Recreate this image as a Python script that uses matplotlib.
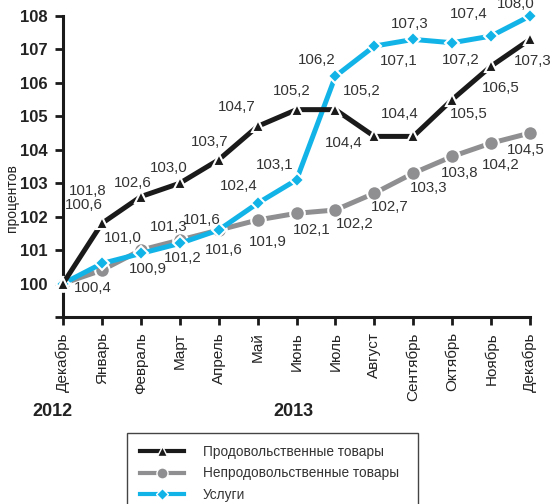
import matplotlib
matplotlib.use("Agg")
import matplotlib.pyplot as plt
from matplotlib.lines import Line2D
from matplotlib.patches import Rectangle

plt.rcParams['font.family'] = ['Liberation Sans', 'DejaVu Sans']

months = ["Декабрь", "Январь", "Февраль", "Март", "Апрель", "Май", "Июнь",
          "Июль", "Август", "Сентябрь", "Октябрь", "Ноябрь", "Декабрь"]
food = [100, 101.8, 102.6, 103.0, 103.7, 104.7, 105.2, 105.2, 104.4, 104.4, 105.5, 106.5, 107.3]
nonfood = [100, 100.4, 101.0, 101.3, 101.6, 101.9, 102.1, 102.2, 102.7, 103.3, 103.8, 104.2, 104.5]
services = [100, 100.6, 100.9, 101.2, 101.6, 102.4, 103.1, 106.2, 107.1, 107.3, 107.2, 107.4, 108.0]
series_names = ["Продовольственные товары", "Непродовольственные товары", "Услуги"]
yticks = [99, 100, 101, 102, 103, 104, 105, 106, 107, 108]
years = ["2012", "2013"]

# label offsets in pixels (dx, dy) relative to each point
food_off = [None, (-14, 32), (-8, 14), (-11, 15), (-9, 18), (-21, 19), (-5, 19),
            (26, 19), (-31, -7), (-14, 22), (17, -14), (10, -22), (3, -22)]
nonfood_off = [None, (-9, -18), (-18, 12), (-11, 13), (-17, 10), (10, -22), (15, -17),
               (19, -14), (15, -14), (15, -15), (7, -17), (10, -22), (-4, -17)]
services_off = [None, (-18, 58), (7, -16), (3, -15), (5, -20), (-19, 17), (-22, 15),
                (-19, 16), (24, -15), (-4, 15), (9, -17), (-22, 22), (-14, 12)]

W, H = 552, 504
fig = plt.figure(figsize=(W / 100, H / 100), dpi=100)
x0, x1 = 63, 530
ytop, ybot = 16, 317
ax = fig.add_axes([x0 / W, 1 - ybot / H, (x1 - x0) / W, (ybot - ytop) / H])

xs = list(range(len(months)))
c_food, c_non, c_srv = "#1a1a1a", "#8f8f91", "#12b4e8"
lw = 3.6
ax.plot(xs, nonfood, color=c_non, lw=lw, marker='o', ms=10.5, mfc=c_non, mec='white',
        mew=1.5, clip_on=False, zorder=3, solid_capstyle='butt')
ax.plot(xs, services, color=c_srv, lw=lw, marker='D', ms=7.5, mfc=c_srv, mec='white',
        mew=1.5, clip_on=False, zorder=4, solid_capstyle='butt')
ax.plot(xs, food, color=c_food, lw=lw, marker='^', ms=9, mfc=c_food, mec='white',
        mew=1.5, clip_on=False, zorder=5, solid_capstyle='butt')

tc = "#333333"
for vals, offs in ((food, food_off), (nonfood, nonfood_off), (services, services_off)):
    for i, (v, o) in enumerate(zip(vals, offs)):
        if o is None:
            continue
        ax.annotate(f"{v:.1f}".replace('.', ','), (i, v), xytext=o,
                    textcoords='offset pixels', ha='center', va='center',
                    fontsize=10.8, color=tc, annotation_clip=False, zorder=6)

ax.set_xlim(0, 12)
ax.set_ylim(99, 108)
ax.set_yticks(yticks)
ax.set_yticklabels(["" if t == 99 else str(t) for t in yticks], fontsize=12,
                   fontweight='bold', color="#222222")
ax.set_xticks(xs)
ax.set_xticklabels(months, rotation=90, fontsize=11, color="#222222", va='top')
for s in ('top', 'right'):
    ax.spines[s].set_visible(False)
for s in ('left', 'bottom'):
    ax.spines[s].set_linewidth(2.2)
    ax.spines[s].set_color("#1a1a1a")
ax.tick_params(axis='both', length=6, width=2, color="#1a1a1a", direction='out')
ax.tick_params(axis='x', pad=5)
ax.tick_params(axis='y', pad=5)
ax.set_facecolor('none')

fig.text(12 / W, 1 - 198 / H, "процентов", rotation=90, ha='center', va='center',
         fontsize=10, color="#222222")
fig.text(52 / W, 1 - 412 / H, years[0], ha='center', va='center', fontsize=13,
         fontweight='bold', color="#222222")
fig.text(293 / W, 1 - 412 / H, years[1], ha='center', va='center', fontsize=13,
         fontweight='bold', color="#222222")

# legend box
fig.patches.append(Rectangle((127 / W, -0.05), (418 - 127) / W, 0.05 + (504 - 433) / H,
                             transform=fig.transFigure, fill=False, edgecolor="#444444",
                             lw=1.0))
handles = [
    Line2D([], [], color=c_food, lw=3, marker='^', ms=7, mfc=c_food, mec='white', mew=1),
    Line2D([], [], color=c_non, lw=3, marker='o', ms=8, mfc=c_non, mec='white', mew=1),
    Line2D([], [], color=c_srv, lw=3, marker='D', ms=6, mfc=c_srv, mec='white', mew=1),
]
leg = fig.legend(handles, series_names, loc='upper left',
                 bbox_to_anchor=(140 / W, 1 - 445 / H), frameon=False, fontsize=9.8,
                 handlelength=3.2, handletextpad=1.4, labelspacing=0.55,
                 borderaxespad=0, borderpad=0.0)
for t in leg.get_texts():
    t.set_color("#333333")

fig.savefig("out.png", dpi=100)
